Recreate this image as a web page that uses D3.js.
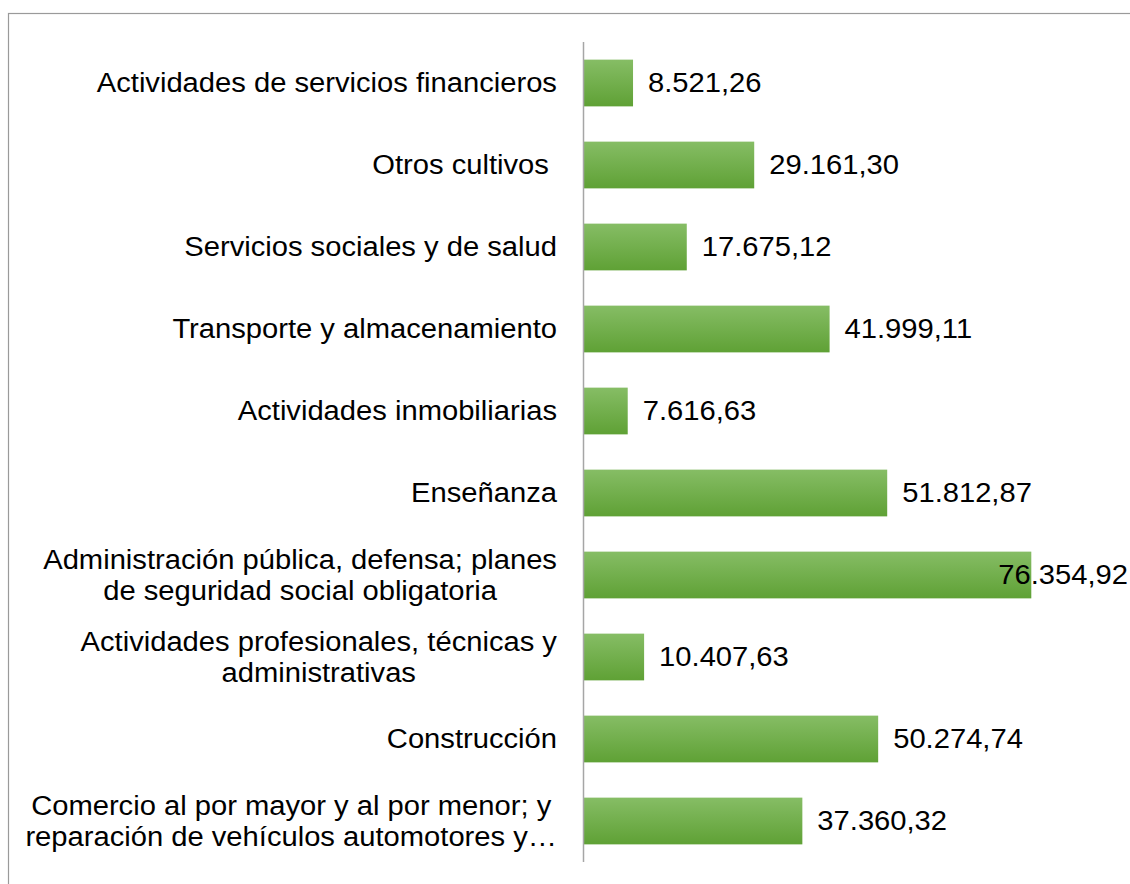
<!DOCTYPE html>
<html>
<head>
<meta charset="utf-8">
<script src="https://cdn.jsdelivr.net/npm/d3@7"></script>
<style>
  html, body { margin: 0; padding: 0; background: #fff; }
  svg { display: block; }
  text { font-family: "Liberation Sans", Arial, sans-serif; fill: #000; white-space: pre; }
</style>
</head>
<body>
<svg id="chart" width="1130" height="884"></svg>
<script>
const categories = [
  ["Actividades de servicios financieros"],
  ["Otros cultivos "],
  ["Servicios sociales y de salud"],
  ["Transporte y almacenamiento"],
  ["Actividades inmobiliarias"],
  ["Enseñanza"],
  ["Administración pública, defensa; planes", "de seguridad social obligatoria"],
  ["Actividades profesionales, técnicas y", "administrativas"],
  ["Construcción"],
  ["Comercio al por mayor y al por menor; y", "reparación de vehículos automotores y…"]
];
const values = [8521.26, 29161.30, 17675.12, 41999.11, 7616.63, 51812.87, 76354.92, 10407.63, 50274.74, 37360.32];
const valueLabels = ["8.521,26", "29.161,30", "17.675,12", "41.999,11", "7.616,63", "51.812,87", "76.354,92", "10.407,63", "50.274,74", "37.360,32"];
const xDomain = [0, 80000];

const svg = d3.select("#chart");
const W = 1130, H = 884;
const axisX = 583, plotTop = 42, plotBottom = 862;
const FS = 27, SX = 1.08, LH = 31;

// outer border
svg.append("rect").attr("x", 8.5).attr("y", 13.5).attr("width", 1140).attr("height", 900)
  .attr("fill", "none").attr("stroke", "#9a9a9a").attr("stroke-width", 1.2);

const defs = svg.append("defs");
const grad = defs.append("linearGradient").attr("id", "barGrad")
  .attr("x1", 0).attr("y1", 0).attr("x2", 0).attr("y2", 1);
grad.append("stop").attr("offset", "0%").attr("stop-color", "#86bd65");
grad.append("stop").attr("offset", "100%").attr("stop-color", "#5fa135");

const idx = d3.range(categories.length);
const y = d3.scaleBand().domain(idx).range([plotTop, plotBottom]).paddingInner(0.43).paddingOuter(0.215);
const x = d3.scaleLinear().domain(xDomain).range([axisX, axisX + 448.3 / 76354.92 * 80000]);

// bars
svg.append("g").selectAll("rect").data(idx).join("rect")
  .attr("x", x(0))
  .attr("y", i => y(i))
  .attr("width", i => x(values[i]) - x(0))
  .attr("height", y.bandwidth())
  .attr("fill", "url(#barGrad)");

// axis line
const yAxis = d3.axisLeft(y).tickSize(0).tickFormat("");
const ga = svg.append("g").attr("transform", `translate(${axisX},0)`).call(yAxis);
ga.select(".domain").attr("stroke", "#a6a6a6").attr("stroke-width", 1.5)
  .attr("d", `M0.5,${plotTop}V${plotBottom}`);

// category labels
const labelRight = 557;
const lg = svg.append("g");
idx.forEach(i => {
  const lines = categories[i];
  const cy = y(i) + y.bandwidth() / 2;
  const n = lines.length;
  const temp = lines.map(t => {
    const el = lg.append("text").attr("font-size", FS).text(t);
    const w = el.node().getComputedTextLength() * SX;
    return { el, w };
  });
  const maxW = d3.max(temp, d => d.w);
  const center = labelRight - maxW / 2;
  temp.forEach((d, k) => {
    const ly = cy + (k - (n - 1) / 2) * LH;
    d.el.attr("text-anchor", "middle").attr("dominant-baseline", "central")
      .attr("transform", `translate(${center},${ly}) scale(${SX},1)`);
  });
});

// value labels
const vg = svg.append("g");
idx.forEach(i => {
  const el = vg.append("text").attr("font-size", FS).attr("dominant-baseline", "central").text(valueLabels[i]);
  const w = el.node().getComputedTextLength() * SX;
  const lx = Math.min(x(values[i]) + 15, W - 2 - w);
  el.attr("transform", `translate(${lx},${y(i) + y.bandwidth() / 2}) scale(${SX},1)`);
});
</script>
</body>
</html>
